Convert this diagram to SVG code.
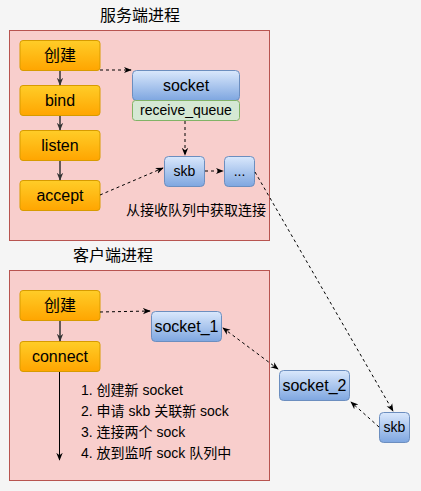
<svg xmlns="http://www.w3.org/2000/svg" width="421" height="491" viewBox="0 0 421 491">
<defs>
<linearGradient id="og" x1="0" y1="0" x2="0" y2="1"><stop offset="0" stop-color="#ffcd28"/><stop offset="1" stop-color="#ffa500"/></linearGradient>
<linearGradient id="bg" x1="0" y1="0" x2="0" y2="1"><stop offset="0" stop-color="#dae8fc"/><stop offset="1" stop-color="#7ea6e0"/></linearGradient>
<marker id="ah" viewBox="0 0 10 10" refX="9" refY="5" markerWidth="8" markerHeight="8" markerUnits="userSpaceOnUse" orient="auto-start-reverse"><path d="M0,1 L10,5 L0,9 L3,5 Z" fill="#000"/></marker>
<marker id="ahg" viewBox="0 0 10 10" refX="9" refY="5" markerWidth="8" markerHeight="8" markerUnits="userSpaceOnUse" orient="auto"><path d="M0,1 L10,5 L0,9 L3,5 Z" fill="#333"/></marker>
<style>
text{font-family:"Liberation Sans",Arial,"Noto Sans CJK SC",sans-serif;fill:#000}
.t16{font-size:16px;text-anchor:middle}
.t14{font-size:14px;text-anchor:middle}
.box{fill:#f8cecc;stroke:#b85450;stroke-width:1}
.or{fill:url(#og);stroke:#d79b00;stroke-width:1}
.bl{fill:url(#bg);stroke:#6c8ebf;stroke-width:1}
.gr{fill:#d5e8d4;stroke:#82b366;stroke-width:1}
.dash{fill:none;stroke:#000;stroke-width:1;stroke-dasharray:3 3;marker-end:url(#ah)}
.solid{fill:none;stroke:#333;stroke-width:1.5;marker-end:url(#ahg)}
.lst{font-size:14px}
</style>
</defs>
<rect width="421" height="491" fill="#f5f5f5"/>
<g id="server">
<rect class="box" x="9.5" y="30.5" width="260" height="210"/>
<text class="t16" x="140" y="21">服务端进程</text>
</g>
<g id="client">
<rect class="box" x="9.5" y="270.5" width="260" height="210"/>
<text class="t16" x="113" y="261">客户端进程</text>
</g>
<g id="s-create"><rect class="or" x="20" y="40.5" width="80" height="30" rx="3"/><text class="t16" x="60" y="61">创建</text></g>
<g id="s-bind"><rect class="or" x="20" y="85.5" width="80" height="30" rx="3"/><text class="t16" x="60" y="106">bind</text></g>
<g id="s-listen"><rect class="or" x="20" y="130.5" width="80" height="30" rx="3"/><text class="t16" x="60" y="151">listen</text></g>
<g id="s-accept"><rect class="or" x="20" y="180.5" width="80" height="30" rx="3"/><text class="t16" x="60" y="201">accept</text></g>
<g id="s-socket"><rect class="bl" x="132.5" y="70.5" width="107" height="30" rx="4"/><text class="t16" x="186" y="91">socket</text></g>
<g id="s-rq"><rect class="gr" x="132.5" y="100.5" width="107" height="20" rx="3"/><text class="t14" x="186" y="115">receive_queue</text></g>
<g id="s-skb"><rect class="bl" x="164.5" y="156.5" width="40" height="30" rx="4"/><text class="t14" x="184.5" y="176">skb</text></g>
<g id="s-more"><rect class="bl" x="224.5" y="156.5" width="30" height="30" rx="4"/><text class="t14" x="239.5" y="176">...</text></g>
<g id="s-note"><text class="t14" x="196" y="215">从接收队列中获取连接</text></g>
<g id="c-create"><rect class="or" x="20" y="290.5" width="80" height="30" rx="3"/><text class="t16" x="60" y="311">创建</text></g>
<g id="c-connect"><rect class="or" x="20" y="341.5" width="80" height="30" rx="3"/><text class="t16" x="60" y="362">connect</text></g>
<g id="c-socket1"><rect class="bl" x="151.5" y="311.5" width="70" height="30" rx="4"/><text class="t16" x="186.5" y="332">socket_1</text></g>
<g id="socket2"><rect class="bl" x="279.5" y="370.5" width="70" height="30" rx="4"/><text class="t16" x="314.5" y="391">socket_2</text></g>
<g id="skb2"><rect class="bl" x="379.5" y="412.5" width="30" height="30" rx="4"/><text class="t14" x="394.5" y="432">skb</text></g>
<g id="c-list">
<text class="lst" x="81" y="395">1. 创建新 socket</text>
<text class="lst" x="81" y="416">2. 申请 skb 关联新 sock</text>
<text class="lst" x="81" y="437">3. 连接两个 sock</text>
<text class="lst" x="81" y="458">4. 放到监听 sock 队列中</text>
</g>
<g id="connectors">
<path class="solid" d="M60,71 V85"/>
<path class="solid" d="M60,116 V130"/>
<path class="solid" d="M60,161 V180"/>
<path class="dash" d="M100,70 H131"/>
<path class="dash" d="M100,195 L163,168"/>
<path class="dash" d="M185,121 V155"/>
<path class="dash" d="M205,171 H223"/>
<path class="dash" d="M255,172 L393,411"/>
<path class="solid" d="M60,321 V341"/>
<path class="dash" d="M100,312 L150,311"/>
<path class="dash" d="M223,328 L278,369" style="marker-start:url(#ah)"/>
<path class="dash" d="M379,427 L351,402"/>
<path d="M59.5,372 V460" fill="none" stroke="#000" stroke-width="1" marker-end="url(#ah)"/>
</g>
</svg>
